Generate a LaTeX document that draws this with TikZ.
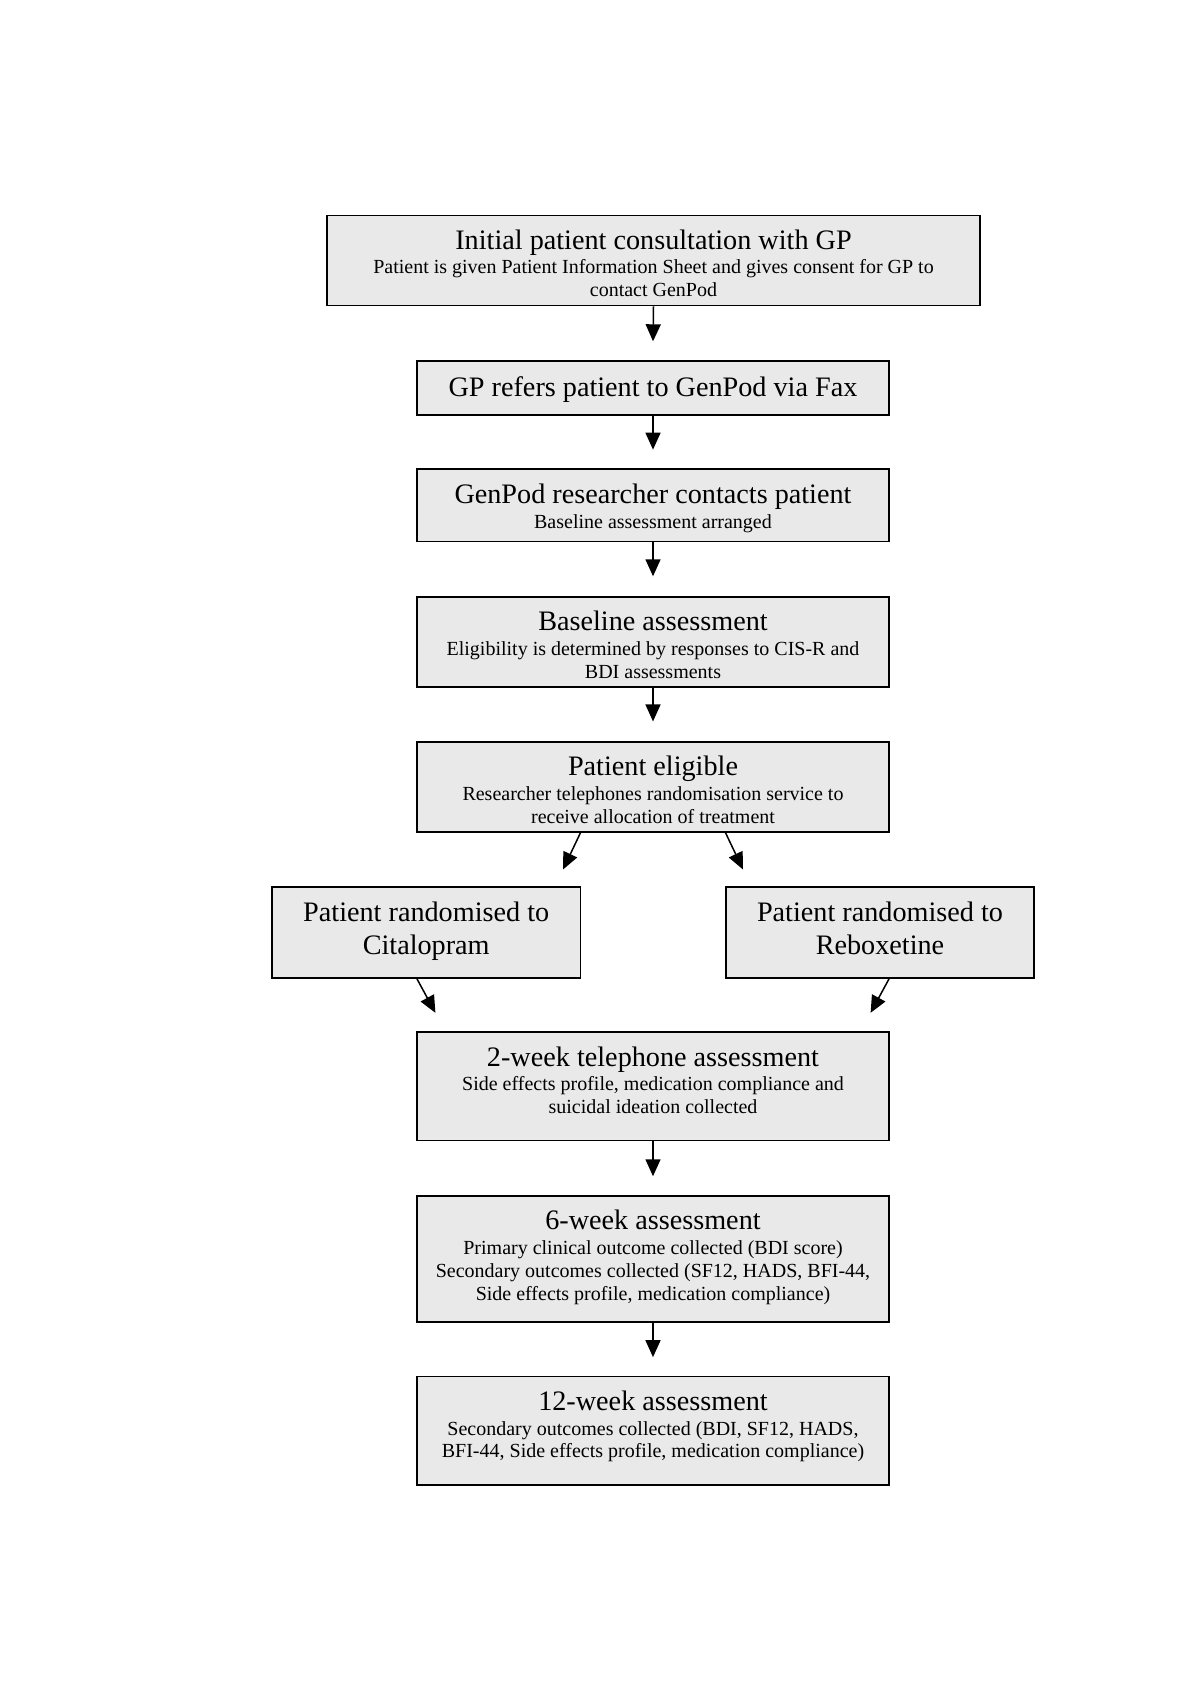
\documentclass[tikz,border=0pt]{standalone}
\usepackage{fontspec}
\setmainfont{Liberation Serif}
\usetikzlibrary{arrows.meta,calc}
\definecolor{boxfill}{RGB}{233,233,233}
\begin{document}
\begin{tikzpicture}[x=1pt,y=-1pt,
  box/.style={draw=black,line width=1.8pt,fill=boxfill,inner sep=0pt},
  ttl/.style={anchor=base,inner sep=0pt,font=\fontsize{28.2pt}{32pt}\selectfont},
  sub/.style={anchor=base,inner sep=0pt,font=\fontsize{20pt}{23pt}\selectfont},
  arr/.style={line width=1.5pt,-{Triangle[width=15pt,length=17pt]}}]
\useasboundingbox[fill=white] (0,0) rectangle (1200,1698);

% boxes
\node[box,minimum width=653pt,minimum height=90pt]   (b1) at (653.5,260.5) {};
\node[box,minimum width=472pt,minimum height=54pt]   (b2) at (653,387.7) {};
\node[box,minimum width=472pt,minimum height=72.5pt] (b3) at (653,505.3) {};
\node[box,minimum width=472pt,minimum height=90pt]   (b4) at (653,641.7) {};
\node[box,minimum width=472pt,minimum height=90pt]   (b5) at (653,786.8) {};
\node[box,minimum width=308.7pt,minimum height=91pt] (bL) at (426.2,932.5) {};
\node[box,minimum width=308.7pt,minimum height=91pt] (bR) at (880,932.5) {};
\node[box,minimum width=472pt,minimum height=108.4pt] (b7) at (653,1086.2) {};
\node[box,minimum width=472pt,minimum height=126.7pt] (b8) at (653,1259) {};
\node[box,minimum width=472pt,minimum height=108.3pt] (b9) at (653,1430.7) {};

% texts
\node[ttl] (t1) at (653.5,249) {Initial patient consultation with GP};
\node[sub] (s1a) at (653.5,273) {Patient is given Patient Information Sheet and gives consent for GP to};
\node[sub] (s1b) at (653.5,296) {contact GenPod};

\node[ttl] (t2) at (653,396) {GP refers patient to GenPod via Fax};

\node[ttl] (t3) at (653,503.5) {GenPod researcher contacts patient};
\node[sub] (s3a) at (653,528.5) {Baseline assessment arranged};

\node[ttl] (t4) at (653,630) {Baseline assessment};
\node[sub] (s4a) at (653,655) {Eligibility is determined by responses to CIS-R and};
\node[sub] (s4b) at (653,678) {BDI assessments};

\node[ttl] (t5) at (653,775.5) {Patient eligible};
\node[sub] (s5a) at (653,800) {Researcher telephones randomisation service to};
\node[sub] (s5b) at (653,823) {receive allocation of treatment};

\node[ttl] (tLa) at (426.2,921.6) {Patient randomised to};
\node[ttl] (tLb) at (426.2,954) {Citalopram};
\node[ttl] (tRa) at (880,921.6) {Patient randomised to};
\node[ttl] (tRb) at (880,954) {Reboxetine};

\node[ttl] (t7) at (653,1066.8) {2-week telephone assessment};
\node[sub] (s7a) at (653,1090.6) {Side effects profile, medication compliance and};
\node[sub] (s7b) at (653,1113.3) {suicidal ideation collected};

\node[ttl] (t8) at (653,1229) {6-week assessment};
\node[sub] (s8a) at (653,1254) {Primary clinical outcome collected (BDI score)};
\node[sub] (s8b) at (653,1277) {Secondary outcomes collected (SF12, HADS, BFI-44,};
\node[sub] (s8c) at (653,1300.7) {Side effects profile, medication compliance)};

\node[ttl] (t9) at (653,1410) {12-week assessment};
\node[sub] (s9a) at (653,1435) {Secondary outcomes collected (BDI, SF12, HADS,};
\node[sub] (s9b) at (653,1457.7) {BFI-44, Side effects profile, medication compliance)};

% arrow end coordinates
\coordinate (e12) at ($(b2.north)+(0,-18.5)$);
\coordinate (e23) at ($(b3.north)+(0,-18.5)$);
\coordinate (e34) at ($(b4.north)+(0,-19.5)$);
\coordinate (e45) at ($(b5.north)+(0,-19.5)$);
\coordinate (e78) at ($(b8.north)+(0,-18.5)$);
\coordinate (e89) at ($(b9.north)+(0,-18.5)$);
\coordinate (s5L) at ($(b5.south)+(-72.5,0)$);
\coordinate (s5R) at ($(b5.south)+(72.5,0)$);
\coordinate (e5L) at ($(b5.south)+(-90,36.8)$);
\coordinate (e5R) at ($(b5.south)+(90,36.8)$);
\coordinate (sL7) at ($(bL.south)+(-9.2,0)$);
\coordinate (sR7) at ($(bR.south)+(9,0)$);
\coordinate (eL7) at ($(b7.north)+(-217.6,-18.3)$);
\coordinate (eR7) at ($(b7.north)+(217.6,-18.3)$);

% connectors
\draw[arr] (b1.south) -- (e12);
\draw[arr] (b2.south) -- (e23);
\draw[arr] (b3.south) -- (e34);
\draw[arr] (b4.south) -- (e45);
\draw[arr] (s5L) -- (e5L);
\draw[arr] (s5R) -- (e5R);
\draw[arr] (sL7) -- (eL7);
\draw[arr] (sR7) -- (eR7);
\draw[arr] (b7.south) -- (e78);
\draw[arr] (b8.south) -- (e89);
\end{tikzpicture}
\end{document}
